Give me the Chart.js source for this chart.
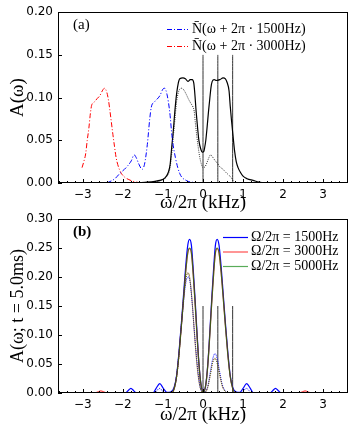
<!DOCTYPE html>
<html lang="en">
<head>
<meta charset="UTF-8">
<title>Spectra</title>
<script src="https://cdn.jsdelivr.net/npm/chart.js@4"></script>
<style>
  body { margin: 0; background: #fff; }
  .wrap { position: relative; width: 355px; height: 427px; }
  .wrap canvas { position: absolute; left: 0; }
  #chartA { top: 0; }
  #chartB { top: 205px; }
</style>
</head>
<body>
<div class="wrap">
  <canvas id="chartA" width="355" height="222"></canvas>
  <canvas id="chartB" width="355" height="222"></canvas>
</div>
<script>
// ---- data, panel (a): [omega/2pi in kHz, A] ----
const solidA = [[-3.6,0],[-1.75,0],[-1.4,0.001],[-1.2,0.002],[-1.08,0.003],[-0.95,0.006],[-0.87,0.012],
  [-0.82,0.022],[-0.775,0.045],[-0.74,0.062],[-0.71,0.08],[-0.67,0.1],[-0.625,0.115],[-0.58,0.122],
  [-0.5,0.123],[-0.44,0.122],[-0.375,0.119],[-0.32,0.121],[-0.27,0.121],[-0.23,0.117],[-0.21,0.108],
  [-0.17,0.083],[-0.13,0.062],[-0.1,0.049],[-0.05,0.039],[-0.017,0.036],[0.02,0.037],[0.04,0.041],
  [0.07,0.05],[0.1,0.064],[0.14,0.085],[0.17,0.099],[0.2,0.112],[0.23,0.119],[0.28,0.121],[0.33,0.12],
  [0.42,0.121],[0.5,0.123],[0.56,0.122],[0.6,0.118],[0.65,0.108],[0.68,0.09],[0.71,0.074],[0.75,0.055],
  [0.79,0.037],[0.83,0.025],[0.875,0.018],[0.94,0.012],[1.0,0.008],[1.1,0.005],[1.25,0.003],[1.4,0.001],
  [1.6,0],[3.6,0]];
const dottedA = [[-1.3,0],[-1.0,0.004],[-0.9,0.008],[-0.83,0.016],[-0.78,0.035],[-0.74,0.055],[-0.7,0.075],
  [-0.66,0.095],[-0.62,0.105],[-0.58,0.11],[-0.53,0.111],[-0.48,0.109],[-0.42,0.104],[-0.36,0.098],
  [-0.3,0.093],[-0.25,0.089],[-0.22,0.084],[-0.19,0.07],[-0.16,0.057],[-0.12,0.042],[-0.08,0.03],
  [-0.04,0.022],[0,0.018],[0.05,0.019],[0.1,0.024],[0.15,0.03],[0.19,0.033],[0.23,0.031],[0.29,0.027],
  [0.36,0.023],[0.42,0.019],[0.5,0.016],[0.58,0.012],[0.65,0.009],[0.71,0.006],[0.76,0.002],[0.8,0]];
const blueA = [[-2.4,0],[-2.2,0.005],[-2.08,0.011],[-1.92,0.018],[-1.79,0.026],[-1.72,0.033],[-1.67,0.03],
  [-1.6,0.022],[-1.52,0.016],[-1.46,0.022],[-1.39,0.045],[-1.33,0.075],[-1.29,0.089],[-1.21,0.095],
  [-1.08,0.102],[-1.0,0.11],[-0.96,0.111],[-0.9,0.104],[-0.83,0.083],[-0.77,0.053],[-0.69,0.03],
  [-0.58,0.011],[-0.42,0.003],[-0.17,0.0005],[0,0]];
const redA = [[-3.02,0.018],[-2.97,0.026],[-2.93,0.034],[-2.89,0.05],[-2.85,0.064],[-2.81,0.082],
  [-2.78,0.091],[-2.71,0.095],[-2.64,0.099],[-2.58,0.102],[-2.5,0.109],[-2.46,0.111],[-2.4,0.106],
  [-2.36,0.097],[-2.33,0.087],[-2.29,0.072],[-2.25,0.057],[-2.21,0.043],[-2.17,0.03],[-2.08,0.015],
  [-1.96,0.007],[-1.85,0.004],[-1.75,0.002],[-1.6,0.0005],[-1.5,0]];

// ---- data, panel (b) ----
const blueB = [[-3.6,0],[-1.95,0],[-1.87,0.004],[-1.8,0.008],[-1.73,0.004],[-1.66,0],[-1.25,0],
  [-1.17,0.008],[-1.08,0.016],[-0.99,0.008],[-0.9,0.001],[-0.8,0.002],[-0.72,0.01],[-0.66,0.03],
  [-0.6,0.07],[-0.54,0.12],[-0.48,0.175],[-0.43,0.22],[-0.38,0.255],[-0.336,0.265],[-0.29,0.255],
  [-0.25,0.22],[-0.2,0.165],[-0.15,0.105],[-0.1,0.05],[-0.05,0.015],[0.01,0.002],[0.07,0.015],
  [0.12,0.05],[0.17,0.105],[0.22,0.165],[0.27,0.22],[0.31,0.255],[0.353,0.265],[0.4,0.255],
  [0.45,0.22],[0.5,0.175],[0.56,0.12],[0.62,0.07],[0.68,0.03],[0.74,0.01],[0.82,0.002],[0.92,0.001],
  [1.0,0.008],[1.09,0.016],[1.18,0.008],[1.26,0],[1.67,0],[1.74,0.004],[1.81,0.008],[1.88,0.004],
  [1.96,0],[3.6,0]];
const greenB = [[-3.6,0],[-0.78,0],[-0.72,0.008],[-0.66,0.028],[-0.6,0.066],[-0.54,0.115],[-0.48,0.168],
  [-0.43,0.21],[-0.38,0.242],[-0.336,0.25],[-0.29,0.242],[-0.25,0.21],[-0.2,0.158],[-0.15,0.1],
  [-0.1,0.048],[-0.05,0.014],[0.01,0.001],[0.07,0.014],[0.12,0.048],[0.17,0.1],[0.22,0.158],
  [0.27,0.21],[0.31,0.242],[0.353,0.25],[0.4,0.242],[0.45,0.21],[0.5,0.168],[0.56,0.115],[0.62,0.066],
  [0.68,0.028],[0.74,0.008],[0.8,0],[3.6,0]];
const redB = [[-3.6,0],[-2.7,0],[-2.62,0.002],[-2.55,0.0035],[-2.48,0.002],[-2.4,0],[-0.78,0],
  [-0.72,0.008],[-0.66,0.028],[-0.6,0.066],[-0.54,0.115],[-0.48,0.168],[-0.43,0.21],[-0.38,0.241],
  [-0.336,0.249],[-0.29,0.241],[-0.25,0.21],[-0.2,0.158],[-0.15,0.1],[-0.1,0.048],[-0.05,0.014],
  [0.01,0.001],[0.07,0.014],[0.12,0.048],[0.17,0.1],[0.22,0.158],[0.27,0.21],[0.31,0.241],
  [0.353,0.249],[0.4,0.241],[0.45,0.21],[0.5,0.168],[0.56,0.115],[0.62,0.066],[0.68,0.028],
  [0.74,0.008],[0.8,0],[2.4,0],[2.48,0.002],[2.55,0.0035],[2.62,0.002],[2.7,0],[3.6,0]];
const blueDotB = [[-1.2,0],[-1.08,0.008],[-0.96,0],[-0.74,0.004],[-0.68,0.02],[-0.62,0.055],[-0.56,0.1],
  [-0.5,0.145],[-0.45,0.18],[-0.4,0.198],[-0.36,0.2],[-0.32,0.19],[-0.27,0.155],[-0.22,0.11],
  [-0.17,0.068],[-0.12,0.033],[-0.07,0.01],[-0.02,0.002],[0.05,0.002],[0.12,0.012],[0.18,0.035],
  [0.24,0.058],[0.3,0.068],[0.36,0.058],[0.42,0.035],[0.48,0.015],[0.55,0.004],[0.62,0],[0.96,0],
  [1.08,0.008],[1.2,0]];
const oliveDotB = [[-0.8,0],[-0.74,0.003],[-0.68,0.018],[-0.62,0.05],[-0.56,0.1],[-0.5,0.15],[-0.45,0.187],
  [-0.4,0.205],[-0.37,0.207],[-0.33,0.198],[-0.28,0.165],[-0.23,0.118],[-0.18,0.072],[-0.13,0.035],
  [-0.08,0.012],[-0.03,0.002],[0.05,0.001],[0.12,0.01],[0.18,0.03],[0.24,0.052],[0.3,0.06],[0.36,0.05],
  [0.42,0.03],[0.48,0.012],[0.55,0.003],[0.62,0]];

// vertical markers (kHz) and their height
const markers = [0, 0.37, 0.74];
const markerTop = 0.15;

// axes
const xMin = -3.62, xMax = 3.62;
const xMajor = [-3, -2, -1, 0, 1, 2, 3];
const labelsA = ['N̄(ω + 2π · 1500Hz)', 'N̄(ω + 2π · 3000Hz)'];
const labelsB = ['Ω/2π = 1500Hz', 'Ω/2π = 3000Hz', 'Ω/2π = 5000Hz'];

const serif = 'Liberation Serif';
const sans = 'DejaVu Sans';

const pts = arr => arr.map(([x, y]) => ({ x, y }));

function line(arr, color, dash, width, label, rank) {
  return { data: pts(arr), borderColor: color, borderDash: dash, borderWidth: width,
           label: label || '', legendRank: rank, fill: false };
}

function markerSets() {
  return markers.map(v => line([[v, 0], [v, markerTop]], '#333', [], 1));
}

// minor ticks every 0.2 kHz
const xTickValues = [];
for (let i = -18; i <= 18; i++) xTickValues.push(i / 5);
const isMajor = v => xMajor.some(m => Math.abs(v - m) < 1e-6);

// frame, inward ticks, panel tag and legend
const decor = {
  id: 'decor',
  afterDatasetsDraw(chart, args, o) {
    const { ctx, chartArea: a, scales: { x, y } } = chart;
    ctx.save();
    ctx.strokeStyle = '#000';
    ctx.lineWidth = 1;
    ctx.setLineDash([]);
    ctx.strokeRect(Math.round(a.left) + 0.5, Math.round(a.top) + 0.5,
                   Math.round(a.width) - 1, Math.round(a.height) - 1);
    ctx.beginPath();
    x.ticks.forEach(t => {
      const px = Math.round(x.getPixelForValue(t.value)) + 0.5;
      const len = isMajor(t.value) ? 4 : 2;
      ctx.moveTo(px, a.bottom); ctx.lineTo(px, a.bottom - len);
    });
    y.ticks.forEach(t => {
      const py = Math.round(y.getPixelForValue(t.value)) + 0.5;
      ctx.moveTo(a.left, py); ctx.lineTo(a.left + 4, py);
    });
    ctx.stroke();

    ctx.fillStyle = '#000';
    ctx.textBaseline = 'middle';
    ctx.font = o.tagFont;
    ctx.fillText(o.tag, a.left + o.tagX, a.top + o.tagY);

    const lg = o.legend;
    const entries = chart.data.datasets.filter(d => d.label)
      .sort((p, q) => p.legendRank - q.legendRank);
    ctx.font = lg.font;
    entries.forEach((d, i) => {
      const yy = lg.y + i * lg.row;
      ctx.strokeStyle = d.borderColor;
      ctx.lineWidth = d.borderWidth;
      ctx.setLineDash(d.borderDash);
      ctx.beginPath();
      ctx.moveTo(lg.x, yy + 0.5); ctx.lineTo(lg.x + lg.line, yy + 0.5);
      ctx.stroke();
      ctx.fillText(d.label, lg.x + lg.line + lg.gap, yy);
    });
    ctx.restore();
  }
};

function makeOptions(c) {
  const tickFont = { family: sans, size: 12 };
  const titleFont = { family: serif, size: 19 };
  return {
    responsive: false,
    animation: false,
    layout: { padding: { top: c.padTop, right: 7, left: 0, bottom: 0 } },
    elements: { point: { radius: 0 }, line: { cubicInterpolationMode: 'monotone' } },
    plugins: {
      legend: { display: false },
      tooltip: { enabled: false },
      decor: { tag: c.tag, tagFont: c.tagFont, tagX: 15, tagY: 13, legend: c.legend }
    },
    scales: {
      x: {
        type: 'linear', min: xMin, max: xMax,
        grid: { display: false, drawTicks: false }, border: { display: false },
        afterBuildTicks: s => { s.ticks = xTickValues.map(v => ({ value: v })); },
        afterFit: s => { s.height = c.xHeight; },
        ticks: { autoSkip: false, maxRotation: 0, padding: 5, font: tickFont, color: '#000',
                 callback: v => isMajor(v) ? String(Math.round(v)).replace('-', '\u2212') : '' },
        title: { display: true, text: 'ω/2π (kHz)', font: titleFont, color: '#000',
                 padding: { top: 0, bottom: c.xTitlePad } }
      },
      y: {
        type: 'linear', min: 0, max: c.yMax,
        grid: { display: false, drawTicks: false }, border: { display: false },
        afterFit: s => { s.width = 58; },
        ticks: { stepSize: 0.05, padding: 5, font: tickFont, color: '#000',
                 callback: v => v.toFixed(2) },
        title: { display: true, text: c.yTitle, font: { family: serif, size: c.yTitleSize }, color: '#000',
                 padding: { top: 7, bottom: 0 } }
      }
    }
  };
}

new Chart(document.getElementById('chartA'), {
  type: 'line',
  data: {
    datasets: [
      line(blueA, '#0000ff', [5, 2, 1, 2], 1, labelsA[0], 0),
      line(redA, '#ff0000', [5, 2, 1, 2], 1, labelsA[1], 1),
      line(solidA, '#000', [], 1.2),
      line(dottedA, '#000', [1, 1.2], 0.8),
      ...markerSets()
    ]
  },
  options: makeOptions({
    padTop: 8, xHeight: 39, xTitlePad: 7.6, yMax: 0.2, yTitle: 'A(ω)', yTitleSize: 19,
    tag: '(a)', tagFont: '15px "Liberation Serif"',
    legend: { x: 167, y: 29, line: 21, gap: 4, row: 17, font: '14px "Liberation Serif"' }
  }),
  plugins: [decor]
});

new Chart(document.getElementById('chartB'), {
  type: 'line',
  data: {
    datasets: [
      line(greenB, 'rgba(0,128,0,0.65)', [], 1.2, labelsB[2], 2),
      line(redB, 'rgba(255,0,0,0.7)', [], 1.2, labelsB[1], 1),
      line(blueB, '#0000ff', [], 1.2, labelsB[0], 0),
      line(oliveDotB, 'rgba(0,128,0,0.7)', [1, 1], 1),
      line(oliveDotB, 'rgba(255,0,0,0.7)', [1, 1], 1),
      line(blueDotB, '#0000ff', [1, 1], 1),
      ...markerSets()
    ]
  },
  options: makeOptions({
    padTop: 14, xHeight: 34, xTitlePad: 0.6, yMax: 0.3, yTitle: 'A(ω; t = 5.0ms)', yTitleSize: 18,
    tag: '(b)', tagFont: 'bold 15px "Liberation Serif"',
    legend: { x: 223, y: 32, line: 25, gap: 3, row: 14.5, font: '14px "Liberation Serif"' }
  }),
  plugins: [decor]
});
</script>
</body>
</html>
